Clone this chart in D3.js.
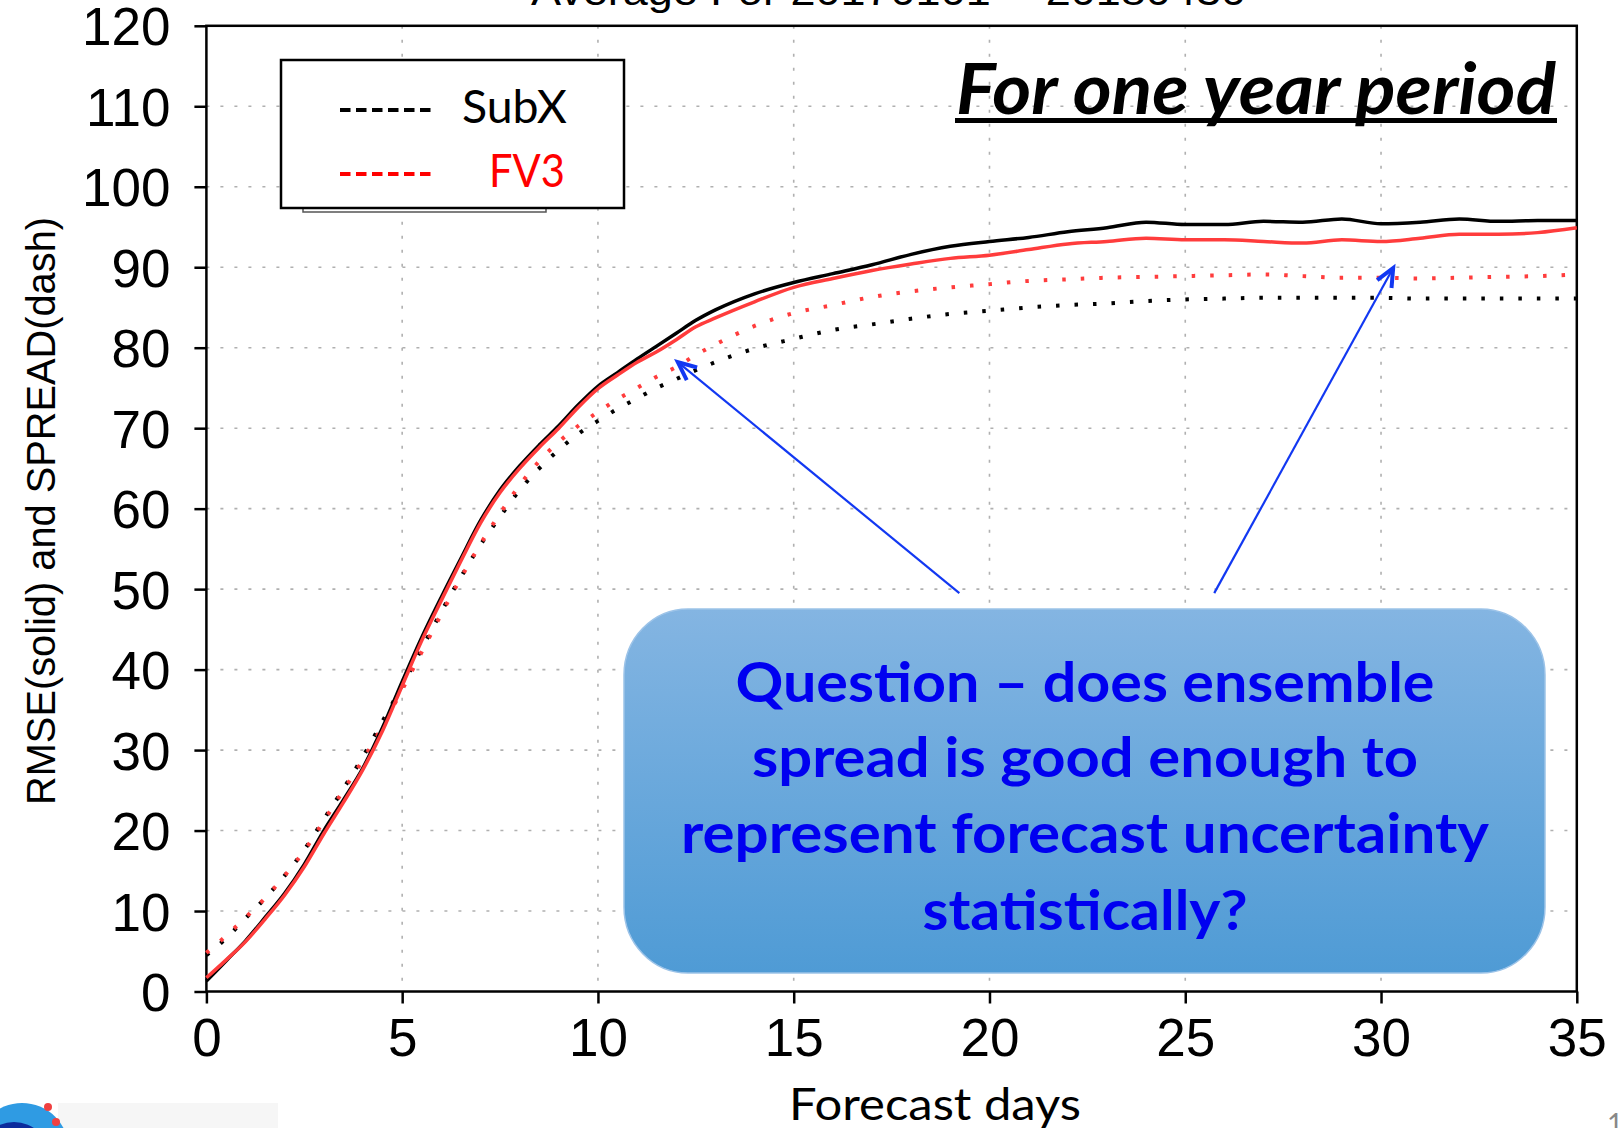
<!DOCTYPE html>
<html>
<head>
<meta charset="utf-8">
<script src="https://cdn.jsdelivr.net/npm/d3@7"></script>
<style>
  html, body { margin: 0; padding: 0; background: #fff; }
  svg { display: block; }
</style>
</head>
<body>
<svg id="chart" width="1618" height="1128"></svg>
<script>
// ---------------- DATA ----------------
const days = [0,0.5,1,1.5,2,2.5,3,3.5,4,4.5,5,5.5,6,6.5,7,7.5,8,8.5,9,9.5,10,10.5,11,11.5,12,12.5,13,
              14,15,16,17,18,19,20,21,22,23,24,25,26,27,28,29,30,31,32,33,34,35];
const subxRmse = [1.3,3.8,6.3,9.2,12.2,15.8,20.0,23.8,27.8,32.8,38.5,44.0,49.0,53.8,58.5,62.3,65.3,67.9,70.3,72.9,75.2,76.9,78.6,80.2,81.8,83.4,84.7,
                  86.7,88.1,89.2,90.3,91.6,92.6,93.2,93.7,94.4,94.9,95.6,95.3,95.3,95.7,95.6,96.0,95.4,95.6,96.0,95.7,95.8,95.8];
const fv3Rmse  = [1.7,3.9,6.2,9.0,12.0,15.5,19.6,23.5,27.6,32.4,38.0,43.6,48.6,53.5,58.2,62.0,65.0,67.6,70.0,72.6,74.9,76.6,78.2,79.5,81.0,82.6,83.7,
                  85.7,87.5,88.6,89.6,90.4,91.1,91.5,92.2,92.9,93.2,93.6,93.4,93.4,93.2,93.0,93.4,93.2,93.6,94.1,94.1,94.3,94.9];
const subxSpread = [4.5,6.6,9.1,11.6,14.4,17.6,21.4,25.2,29.2,33.6,38.0,42.6,47.2,51.5,55.5,59.0,62.3,65.0,67.3,69.3,70.9,72.4,73.7,75.0,76.1,77.2,78.2,
                    79.9,81.1,82.2,82.9,83.6,84.2,84.6,85.0,85.3,85.5,85.8,86.0,86.1,86.2,86.2,86.2,86.2,86.1,86.1,86.1,86.1,86.1];
const fv3Spread  = [4.8,6.9,9.2,11.6,14.4,17.5,21.2,25.0,28.8,33.0,37.5,42.2,46.9,51.4,55.6,59.4,62.9,65.9,68.3,70.3,72.0,73.6,75.0,76.4,77.6,79.1,80.4,
                    82.7,84.3,85.3,86.3,87.0,87.5,87.9,88.3,88.5,88.7,88.8,88.9,89.0,89.1,88.9,88.7,88.7,88.6,88.7,88.8,88.9,89.1];

const xTicks = [0,5,10,15,20,25,30,35];
const yTicks = [0,10,20,30,40,50,60,70,80,90,100,110,120];
const legendLabels = ["SubX","FV3"];
const titleText = "Average For 20170101 -- 20180430";
const yAxisTitle = "RMSE(solid)  and  SPREAD(dash)";
const xAxisTitle = "Forecast days";
const periodText = "For one year period";
const questionLines = ["Question \u2013 does ensemble","spread is good enough to","represent forecast uncertainty","statistically?"];
// arrows: [tailDay, tailValue, tipDay, tipValue]
const arrowTails = [[19.23,49.5],[25.74,49.5]];
const arrowTips  = [[12.04,78.2],[30.31,89.9]];

// ---------------- LAYOUT ----------------
const svg = d3.select("#chart");
const L = 206.4, R = 1576.8, T = 25.8, B = 991.5;
const x = d3.scaleLinear().domain([0,35]).range([L,R]);
const y = d3.scaleLinear().domain([0,120]).range([B,T]);

const grads = "'Liberation Sans', Arial, sans-serif";
const calibri = "Lato, 'Open Sans', sans-serif";

svg.append("rect").attr("width",1618).attr("height",1128).attr("fill","#fff");

// top title (cut off by page edge)
svg.append("text").attr("x", 531).attr("y", 5).attr("font-family", grads).attr("font-size", 40)
  .attr("textLength", 715).attr("lengthAdjust","spacingAndGlyphs").attr("fill","#000").text(titleText);

// grid
const grid = svg.append("g");
grid.selectAll("line.gx").data(xTicks.filter(d => d>0 && d<35)).enter().append("line")
  .attr("x1", d=>x(d)).attr("x2", d=>x(d)).attr("y1", T).attr("y2", B)
  .attr("stroke","#b0b0b0").attr("stroke-width",1.6).attr("stroke-dasharray","3,11");
grid.selectAll("line.gy").data(yTicks.filter(d => d>0 && d<120)).enter().append("line")
  .attr("y1", d=>y(d)).attr("y2", d=>y(d)).attr("x1", L).attr("x2", R)
  .attr("stroke","#b0b0b0").attr("stroke-width",1.6).attr("stroke-dasharray","3,11");

// axes
const yAxis = svg.append("g").attr("transform",`translate(${L},0)`)
  .call(d3.axisLeft(y).tickValues(yTicks).tickSize(12).tickPadding(24).tickFormat(d3.format("d")));
const xAxis = svg.append("g").attr("transform",`translate(0,${B})`)
  .call(d3.axisBottom(x).tickValues(xTicks).tickSize(12).tickPadding(15).tickFormat(d3.format("d")));
[yAxis, xAxis].forEach(g => {
  g.select(".domain").remove();
  g.selectAll(".tick line").attr("stroke","#000").attr("stroke-width",2.5);
  g.selectAll(".tick text").attr("font-family", grads).attr("font-size", 53).attr("fill","#000");
});
yAxis.selectAll(".tick text").attr("dy","0.36em");

// frame
svg.append("rect").attr("x",L).attr("y",T).attr("width",R-L).attr("height",B-T)
  .attr("fill","none").attr("stroke","#000").attr("stroke-width",2.5);

// series
const idx = d3.range(days.length);
const lineGen = vals => d3.line().x(i=>x(days[i])).y(i=>y(vals[i])).curve(d3.curveMonotoneX)(idx);
const series = [
  {vals: subxSpread, color:"#000", dash:"3.5,15", w:4},
  {vals: fv3Spread,  color:"#ff3c3c", dash:"3.5,15", w:4},
  {vals: subxRmse,   color:"#000", dash:null, w:3.5},
  {vals: fv3Rmse,    color:"#ff3c3c", dash:null, w:3.5}
];
series.forEach(s => {
  svg.append("path").attr("d", lineGen(s.vals)).attr("fill","none")
    .attr("stroke", s.color).attr("stroke-width", s.w)
    .attr("stroke-dasharray", s.dash).attr("stroke-linejoin","round");
});

// legend
const lg = svg.append("g");
lg.append("rect").attr("x",303).attr("y",206).attr("width",243).attr("height",6)
  .attr("fill","#fff").attr("stroke","#555").attr("stroke-width",1.5);
lg.append("rect").attr("x",281).attr("y",60).attr("width",343).attr("height",148)
  .attr("fill","#fff").attr("stroke","#000").attr("stroke-width",2.5);
const legendColors = ["#000","#ff0000"];
const legendY = [110,174];
const legendTextX = [462,489];
const legendTextW = [105,76];
legendLabels.forEach((lab,i) => {
  lg.append("line").attr("x1",340).attr("x2",436).attr("y1",legendY[i]).attr("y2",legendY[i])
    .attr("stroke",legendColors[i]).attr("stroke-width",4).attr("stroke-dasharray","10.5,5.5");
  lg.append("text").attr("x",legendTextX[i]).attr("y",legendY[i]+13).attr("font-family",calibri)
    .attr("font-size",46).attr("fill",legendColors[i])
    .attr("textLength",legendTextW[i]).attr("lengthAdjust","spacingAndGlyphs").text(lab);
});

// "For one year period"
svg.append("text").attr("x",956).attr("y",114).attr("font-family",calibri).attr("font-size",70)
  .attr("font-weight","bold").attr("font-style","italic").attr("fill","#000")
  .attr("textLength",600).attr("lengthAdjust","spacingAndGlyphs").text(periodText);
svg.append("rect").attr("x",955).attr("y",118).attr("width",602).attr("height",5).attr("fill","#000");

// axis titles
svg.append("text").attr("transform","translate(55,511) rotate(-90)").attr("text-anchor","middle")
  .attr("font-family",grads).attr("font-size",40).attr("fill","#000")
  .attr("textLength",588).attr("lengthAdjust","spacingAndGlyphs").text(yAxisTitle);
svg.append("text").attr("x",789).attr("y",1120).attr("font-family",calibri).attr("font-size",45)
  .attr("fill","#000").attr("textLength",292).attr("lengthAdjust","spacingAndGlyphs").text(xAxisTitle);

// arrows
const arrowColor = "#1238f2";
arrowTails.forEach((t,i) => {
  const tip = arrowTips[i];
  const x1 = x(t[0]), y1 = y(t[1]), x2 = x(tip[0]), y2 = y(tip[1]);
  svg.append("line").attr("x1",x1).attr("y1",y1).attr("x2",x2).attr("y2",y2)
    .attr("stroke",arrowColor).attr("stroke-width",2.2);
  const th = Math.atan2(y1-y2, x1-x2);
  const a = 0.42, len = 20;
  const p1 = [x2+len*Math.cos(th+a), y2+len*Math.sin(th+a)];
  const p2 = [x2+len*Math.cos(th-a), y2+len*Math.sin(th-a)];
  svg.append("path").attr("d",`M${p1[0]},${p1[1]}L${x2},${y2}L${p2[0]},${p2[1]}`)
    .attr("fill","none").attr("stroke",arrowColor).attr("stroke-width",4).attr("stroke-linejoin","miter");
});

// question box
const defs = svg.append("defs");
const grad = defs.append("linearGradient").attr("id","boxg").attr("x1",0).attr("x2",0).attr("y1",0).attr("y2",1);
grad.append("stop").attr("offset","0%").attr("stop-color","#84b5e2");
grad.append("stop").attr("offset","100%").attr("stop-color","#4f9bd5");
svg.append("rect").attr("x",624).attr("y",609).attr("width",921).attr("height",364)
  .attr("rx",64).attr("ry",66).attr("fill","url(#boxg)").attr("stroke","#9cc3e8").attr("stroke-width",1.5);
const qBase = [702,777,853,930];
const qWidth = [699,666,808,325];
questionLines.forEach((ln,i) => {
  svg.append("text").attr("x",1085).attr("y",qBase[i]).attr("text-anchor","middle")
    .attr("font-family",calibri).attr("font-weight","bold").attr("font-size",56).attr("fill","#0000f0")
    .attr("textLength",qWidth[i]).attr("lengthAdjust","spacingAndGlyphs").text(ln);
});

// logo fragment bottom-left & page number
svg.append("rect").attr("x",58).attr("y",1103).attr("width",220).attr("height",25).attr("fill","#f6f6f6");
svg.append("circle").attr("cx",22).attr("cy",1150).attr("r",47).attr("fill","#2f9be3");
svg.append("circle").attr("cx",14).attr("cy",1158).attr("r",36).attr("fill","#0b2b9c");
svg.append("circle").attr("cx",48).attr("cy",1107).attr("r",4).attr("fill","#f04040");
svg.append("circle").attr("cx",56).attr("cy",1122).attr("r",4).attr("fill","#f04040");
svg.append("text").attr("x",1607).attr("y",1134).attr("font-family",calibri).attr("font-size",28)
  .attr("fill","#888").text("1");
</script>
</body>
</html>
